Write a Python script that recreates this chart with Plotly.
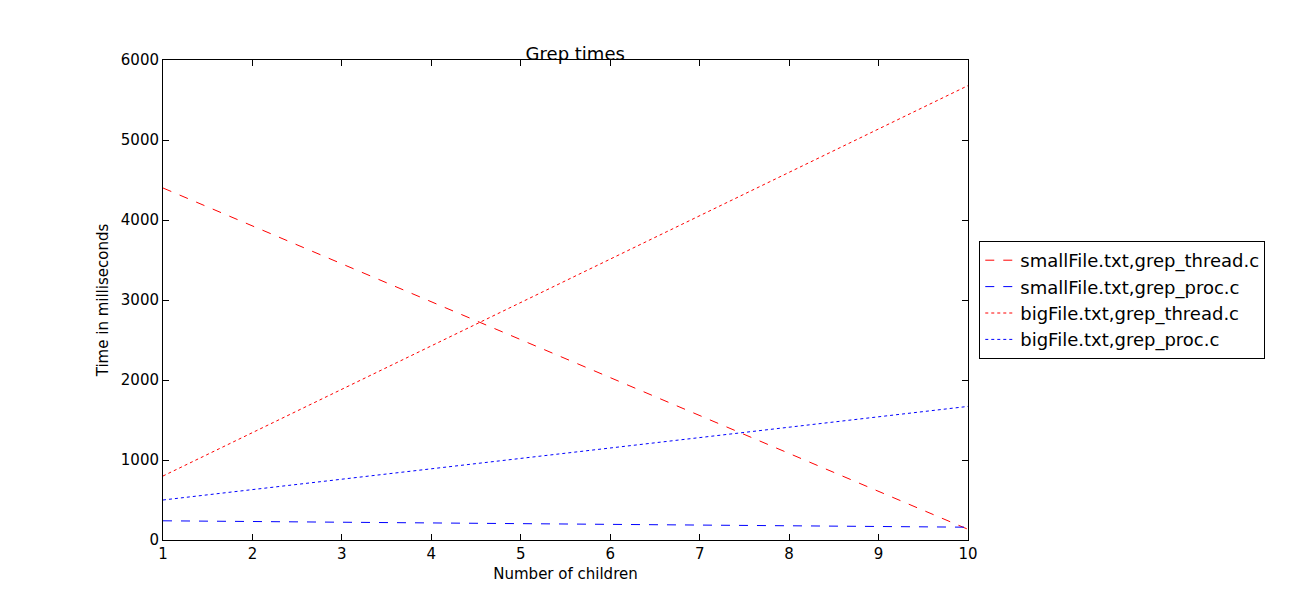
import plotly.graph_objects as go

children = [1, 2, 3, 4, 5, 6, 7, 8, 9, 10]
small_thread = [4400, 3926, 3452, 2978, 2504, 2030, 1556, 1082, 608, 134]
small_proc = [240, 231, 222, 213, 204, 196, 187, 178, 169, 160]
big_thread = [800, 1342, 1884, 2426, 2968, 3510, 4052, 4594, 5136, 5680]
big_proc = [500, 630, 760, 890, 1020, 1150, 1280, 1410, 1540, 1670]

fig = go.Figure()
fig.add_trace(go.Scatter(x=children, y=small_thread, mode="lines", name="smallFile.txt,grep_thread.c",
                         line=dict(color="red", dash="dash", width=1)))
fig.add_trace(go.Scatter(x=children, y=small_proc, mode="lines", name="smallFile.txt,grep_proc.c",
                         line=dict(color="blue", dash="dash", width=1)))
fig.add_trace(go.Scatter(x=children, y=big_thread, mode="lines", name="bigFile.txt,grep_thread.c",
                         line=dict(color="red", dash="dot", width=1)))
fig.add_trace(go.Scatter(x=children, y=big_proc, mode="lines", name="bigFile.txt,grep_proc.c",
                         line=dict(color="blue", dash="dot", width=1)))

axis = dict(showgrid=False, zeroline=False, showline=True, linecolor="black", mirror="ticks",
            ticks="inside", ticklen=6, tickcolor="black", tickfont=dict(size=15))
fig.update_layout(
    width=1301, height=600,
    paper_bgcolor="white", plot_bgcolor="white",
    font=dict(family="DejaVu Sans", color="black"),
    margin=dict(l=155, r=341, t=52, b=68),
    title=dict(text="Grep times", x=0.436, xanchor="center", y=0.935, font=dict(size=18)),
    xaxis=dict(axis, range=[1, 10], dtick=1,
               title=dict(text="Number of children", font=dict(size=15), standoff=6)),
    yaxis=dict(axis, range=[0, 6000], dtick=1000,
               title=dict(text="Time in milliseconds", font=dict(size=15), standoff=8)),
    legend=dict(x=1.014, y=0.5, xanchor="left", yanchor="middle", bordercolor="black",
                borderwidth=1, font=dict(size=18), bgcolor="white"),
)

fig.write_html("out.html")
